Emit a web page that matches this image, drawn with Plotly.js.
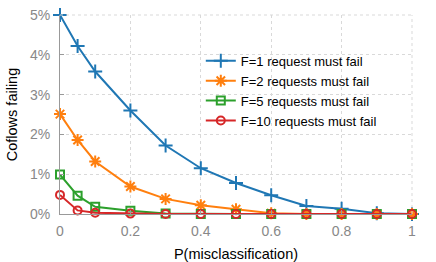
<!DOCTYPE html>
<html><head><meta charset="utf-8">
<script src="https://cdn.plot.ly/plotly-3.0.1.min.js"></script>
<style>html,body{margin:0;padding:0;background:#fff}#c{width:436px;height:262px}</style>
</head><body><div id="c"></div>
<script>
var pMis = [0, 0.05, 0.1, 0.2, 0.3, 0.4, 0.5, 0.6, 0.7, 0.8, 0.9, 1.0];
var f1 = [5.0, 4.22, 3.58, 2.6, 1.72, 1.15, 0.78, 0.47, 0.2, 0.13, 0.02, 0];
var f2 = [2.51, 1.86, 1.32, 0.69, 0.38, 0.22, 0.12, 0.02, 0, 0, 0, 0];
var f5 = [0.99, 0.46, 0.18, 0.08, 0.01, 0, 0, 0, 0, 0, 0, 0];
var f10 = [0.48, 0.09, 0.03, 0.01, 0, 0, 0, 0, 0, 0, 0, 0];
var names = ['F=1 request must fail', 'F=2 requests must fail', 'F=5 requests must fail', 'F=10 requests must fail'];
var yTickVals = [0, 1, 2, 3, 4, 5];
var yTickText = ['0%', '1%', '2%', '3%', '4%', '5%'];
var xTickVals = [0, 0.2, 0.4, 0.6, 0.8, 1];
var xTickText = ['0', '0.2', '0.4', '0.6', '0.8', '1'];

var colors = ['#1f77b4', '#ff7f0e', '#2ca02c', '#d62728'];
var symbols = ['cross-thin-open', 'asterisk-open', 'square-open', 'circle-open'];
var sizes = [10, 10, 8, 8];
var series = [f1, f2, f5, f10];
var traces = series.map(function (s, i) {
  return {
    x: pMis, y: s, name: names[i], mode: 'lines+markers', type: 'scatter',
    cliponaxis: false,
    line: {color: colors[i], width: 2},
    marker: {symbol: symbols[i], size: sizes[i], color: colors[i], line: {color: colors[i], width: 2}}
  };
});
var gridc = '#d9d9d9';
var layout = {
  width: 436, height: 262,
  margin: {l: 60, r: 24, t: 15, b: 48},
  paper_bgcolor: '#fff', plot_bgcolor: '#fff',
  font: {family: 'Liberation Sans, Arial, sans-serif', size: 13, color: '#000'},
  showlegend: true,
  legend: {x: 0.40, y: 0.845, xanchor: 'left', yanchor: 'top', bgcolor: 'rgba(0,0,0,0)',
           font: {size: 13, color: '#000'}, tracegroupgap: 0},
  xaxis: {range: [0, 1], tickvals: xTickVals, ticktext: xTickText, showgrid: true,
          gridcolor: gridc, griddash: 'dot', zeroline: false, showline: true, linecolor: '#999',
          linewidth: 1, ticks: 'inside', ticklen: 4, tickcolor: '#999', mirror: false,
          tickfont: {color: '#888', size: 14}, ticklabelstandoff: 4,
          title: {text: 'P(misclassification)', font: {size: 14.5, color: '#000'}, standoff: 12}},
  yaxis: {range: [0, 5], tickvals: yTickVals, ticktext: yTickText, showgrid: true,
          gridcolor: gridc, griddash: 'dot', zeroline: false, showline: true, linecolor: '#999',
          linewidth: 1, ticks: 'inside', ticklen: 4, tickcolor: '#999',
          tickfont: {color: '#888', size: 14}, ticklabelstandoff: 6,
          title: {text: 'Coflows failing', font: {size: 14.5, color: '#000'}, standoff: 8}},
  shapes: [
    {type: 'line', xref: 'paper', yref: 'paper', x0: 0, x1: 1, y0: 1, y1: 1, line: {color: gridc, width: 1, dash: 'dot'}},
    {type: 'line', xref: 'paper', yref: 'paper', x0: 1, x1: 1, y0: 0, y1: 1, line: {color: gridc, width: 1, dash: 'dot'}}
  ]
};
Plotly.newPlot('c', traces, layout, {displayModeBar: false, staticPlot: true});
</script></body></html>
